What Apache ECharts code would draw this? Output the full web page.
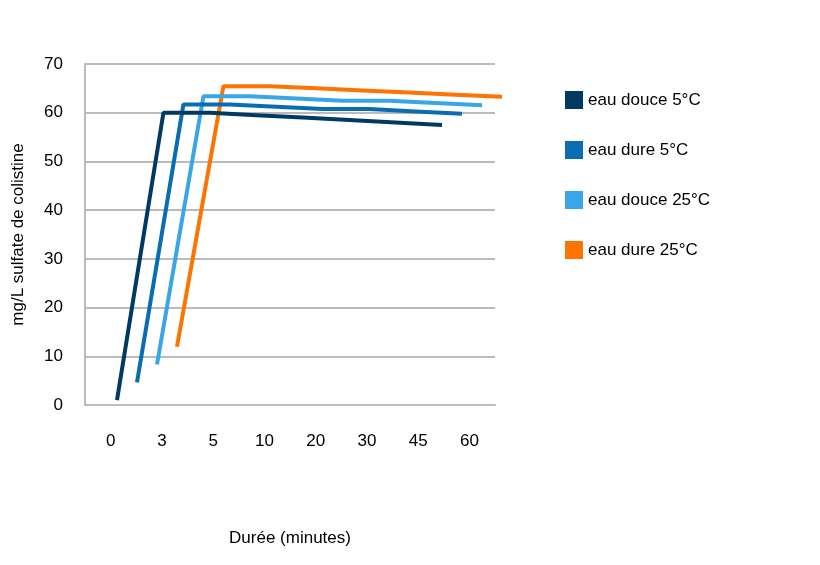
<!DOCTYPE html>
<html><head><meta charset="utf-8">
<script src="https://cdn.jsdelivr.net/npm/echarts@6/dist/echarts.min.js"></script>
<style>html,body{margin:0;background:#fff}#c{width:820px;height:565px}</style>
</head><body><div id="c"></div>
<script>
var durees = ['0', '3', '5', '10', '20', '30', '45', '60'];
var names = ['eau douce 5°C', 'eau dure 5°C', 'eau douce 25°C', 'eau dure 25°C'];
var colors = ['#003a63', '#0a6db3', '#38a6e8', '#ff7300'];
var douce5 = [1, 60, 60, 59.5, 59, 58.5, 58, 57.5];
var dure5 = [1, 60.5, 60.5, 60, 59.5, 59.5, 59, 58.5];
var douce25 = [1, 61, 61, 60.5, 60, 60, 59.5, 59];
var dure25 = [1, 62, 62, 61.5, 61, 60.5, 60, 59.5];
var values = [douce5, dure5, douce25, dure25];

var chart = echarts.init(document.getElementById('c'));
var grids = [{left: 85, top: 64, width: 410, height: 341}];
var xAxes = [{gridIndex: 0, type: 'category', data: durees, boundaryGap: true,
  axisLine: {lineStyle: {color: '#bbb', width: 2}}, axisTick: {show: false},
  axisLabel: {color: '#000', fontSize: 17, margin: 28},
  name: 'Durée (minutes)', nameLocation: 'middle', nameGap: 125,
  nameTextStyle: {color: '#000', fontSize: 17}}];
var yAxes = [{gridIndex: 0, type: 'value', min: 0, max: 70, interval: 10,
  axisLine: {show: true, lineStyle: {color: '#bbb', width: 2}},
  axisLabel: {color: '#000', fontSize: 17, margin: 22},
  splitLine: {lineStyle: {color: '#bbb', width: 2}},
  name: 'mg/L sulfate de colistine', nameLocation: 'middle', nameGap: 58,
  nameTextStyle: {color: '#000', fontSize: 17}}];
var series = [];
for (var i = 0; i < 4; i++) {
  grids.push({left: 117 + 20 * i, top: 64 - 4 * i, width: 325, height: 341 - 14 * i});
  xAxes.push({gridIndex: i + 1, type: 'category', data: durees, boundaryGap: false, show: false});
  yAxes.push({gridIndex: i + 1, type: 'value', min: 0, max: 70, show: false});
  series.push({name: names[i], type: 'line', xAxisIndex: i + 1, yAxisIndex: i + 1,
    data: values[i], showSymbol: false, color: colors[i],
    lineStyle: {width: 4}, z: 10 - i});
}
chart.setOption({
  animation: false,
  textStyle: {fontFamily: 'Liberation Sans, Arial, sans-serif'},
  grid: grids, xAxis: xAxes, yAxis: yAxes, series: series,
  legend: {orient: 'vertical', left: 560, top: 86, itemGap: 32, icon: 'rect',
    itemWidth: 18, itemHeight: 18, data: names,
    textStyle: {fontSize: 17, color: '#000'}}
});
</script></body></html>
